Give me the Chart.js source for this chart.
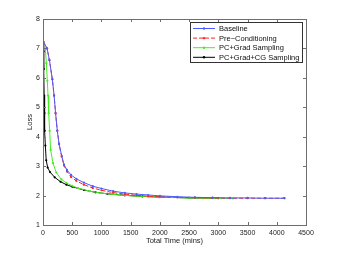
<!DOCTYPE html>
<html>
<head>
<meta charset="utf-8">
<script src="https://cdn.jsdelivr.net/npm/chart.js@4"></script>
<style>
  html, body { margin: 0; padding: 0; background: #fff; }
</style>
</head>
<body>
<canvas id="lossChart" width="338" height="254"></canvas>
<script>
// [time (mins), loss] pairs
const baseline = [
    [0, 7.25], [70, 7.0], [110, 6.6], [160, 5.95], [190, 5.4], [215, 4.8], [245, 4.2],
    [275, 3.75], [320, 3.35], [360, 3.05], [410, 2.87], [480, 2.7], [570, 2.57],
    [700, 2.44], [850, 2.32], [1000, 2.24], [1200, 2.15], [1400, 2.09], [1600, 2.05],
    [1800, 2.02], [2000, 1.99], [2300, 1.96], [2600, 1.94], [2900, 1.93], [3200, 1.92],
    [3500, 1.92], [3800, 1.91], [4130, 1.91]
]
const preConditioning = [
    [0, 7.25], [70, 7.0], [110, 6.6], [160, 5.95], [190, 5.4], [215, 4.8], [245, 4.2],
    [275, 3.75], [320, 3.32], [360, 3.02], [410, 2.82], [480, 2.63], [570, 2.5],
    [700, 2.37], [850, 2.26], [1000, 2.18], [1200, 2.1], [1400, 2.05], [1600, 2.01],
    [1800, 1.98], [2000, 1.96], [2300, 1.94], [2600, 1.93], [2900, 1.92], [3200, 1.91],
    [3500, 1.91], [3800, 1.91], [4130, 1.91]
]
const pcGrad = [
    [0, 7.1], [40, 7.0], [57, 6.5], [74, 5.9], [86, 5.4], [97, 4.8], [114, 4.2],
    [131, 3.55], [171, 3.1], [228, 2.78], [314, 2.55], [400, 2.43], [500, 2.33],
    [600, 2.25], [800, 2.15], [1000, 2.08], [1300, 2.02], [1600, 1.98], [2000, 1.95],
    [2500, 1.92], [2900, 1.91], [3250, 1.9]
]
const pcGradCG = [
    [0, 7.25], [10, 6.9], [15, 6.3], [20, 5.4], [25, 4.8], [30, 4.2], [40, 3.7],
    [55, 3.2], [80, 2.95], [120, 2.8], [200, 2.62], [300, 2.47], [400, 2.37],
    [500, 2.3], [700, 2.19], [900, 2.11], [1100, 2.06], [1400, 2.01], [1700, 1.97],
    [2000, 1.95], [2500, 1.92], [3000, 1.91]
]
const seriesNames = ['Baseline', 'Pre\u2212Conditioning', 'PC+Grad Sampling', 'PC+Grad+CG Sampling']
const seriesColors = ['#4a5cff', '#ff2020', '#44ee22', '#000000']
const xTicks = [0, 500, 1000, 1500, 2000, 2500, 3000, 3500, 4000, 4500]
const yTicks = [1, 2, 3, 4, 5, 6, 7, 8]

const FONT = 'Liberation Sans, Arial, Helvetica, sans-serif'

function toPoints(arr) {
    return arr.map(p => ({ x: p[0], y: p[1] }))
}

// matlab style box with inward ticks on all four sides
const boxTicks = {
    id: 'boxTicks',
    afterDraw(chart) {
        const { ctx, chartArea: a, scales } = chart
        ctx.save()
        ctx.strokeStyle = '#6e6e6e'
        ctx.lineWidth = 1
        ctx.strokeRect(a.left + 0.5, a.top + 0.5, a.right - a.left, a.bottom - a.top)
        ctx.beginPath()
        xTicks.forEach(v => {
            const px = Math.round(scales.x.getPixelForValue(v)) + 0.5
            ctx.moveTo(px, a.bottom); ctx.lineTo(px, a.bottom - 3)
            ctx.moveTo(px, a.top); ctx.lineTo(px, a.top + 3)
        })
        yTicks.forEach(v => {
            const py = Math.round(scales.y.getPixelForValue(v)) + 0.5
            ctx.moveTo(a.left, py); ctx.lineTo(a.left + 3, py)
            ctx.moveTo(a.right, py); ctx.lineTo(a.right - 3, py)
        })
        ctx.stroke()
        ctx.restore()
    }
}

// legend box in the top right corner
const boxLegend = {
    id: 'boxLegend',
    afterDraw(chart) {
        const ctx = chart.ctx
        const x0 = 190, y0 = 22, w = 112, h = 40
        ctx.save()
        ctx.fillStyle = '#fff'
        ctx.fillRect(x0, y0, w, h)
        ctx.strokeStyle = '#333'
        ctx.lineWidth = 1
        ctx.strokeRect(x0 + 0.5, y0 + 0.5, w, h)
        ctx.font = '7.5px ' + FONT
        ctx.textBaseline = 'middle'
        chart.data.datasets.forEach((ds, i) => {
            const y = y0 + 6.5 + i * 9.6
            ctx.strokeStyle = ds.borderColor
            ctx.setLineDash(ds.borderDash || [])
            ctx.beginPath()
            ctx.moveTo(x0 + 3, y); ctx.lineTo(x0 + 25, y)
            ctx.stroke()
            ctx.setLineDash([])
            ctx.fillStyle = ds.borderColor
            ctx.beginPath()
            ctx.arc(x0 + 14, y, 1.2, 0, Math.PI * 2)
            ctx.fill()
            ctx.fillStyle = '#111'
            ctx.fillText(ds.label, x0 + 29, y + 0.5)
        })
        ctx.restore()
    }
}

const lossChart = new Chart(document.getElementById('lossChart'), {
    type: 'line',
    data: {
        datasets: [baseline, preConditioning, pcGrad, pcGradCG].map((d, i) => ({
            label: seriesNames[i],
            data: toPoints(d),
            borderColor: seriesColors[i],
            backgroundColor: seriesColors[i],
            borderWidth: 1,
            borderDash: i === 1 ? [4, 2] : [],
            pointRadius: 1.1,
            pointHoverRadius: 0,
            pointBorderWidth: 0,
            tension: 0,
            fill: false
        }))
    },
    options: {
        responsive: false,
        animation: false,
        devicePixelRatio: 1,
        layout: { padding: { left: 0, right: 32, top: 19, bottom: 0 } },
        plugins: {
            legend: { display: false },
            tooltip: { enabled: false }
        },
        scales: {
            x: {
                type: 'linear',
                min: 0,
                max: 4500,
                afterBuildTicks: s => { s.ticks = xTicks.map(v => ({ value: v })) },
                afterFit: s => { s.height = 29 },
                grid: { display: false, drawTicks: false },
                border: { display: false },
                ticks: {
                    color: '#222', font: { family: FONT, size: 7 }, padding: 4, maxRotation: 0,
                    callback: v => String(v)
                },
                title: {
                    display: true, text: 'Total Time (mins)', color: '#222',
                    font: { family: FONT, size: 7.5 }, padding: { top: 0, bottom: 9 }
                }
            },
            y: {
                type: 'linear',
                min: 1,
                max: 8,
                afterBuildTicks: s => { s.ticks = yTicks.map(v => ({ value: v })) },
                afterFit: s => { s.width = 43 },
                grid: { display: false, drawTicks: false },
                border: { display: false },
                ticks: { color: '#222', font: { family: FONT, size: 7 }, padding: 3, callback: v => String(v) },
                title: {
                    display: true, text: 'Loss', color: '#222',
                    font: { family: FONT, size: 7.5 }, padding: { top: 25, bottom: 0 }
                }
            }
        }
    },
    plugins: [boxTicks, boxLegend]
})
</script>
</body>
</html>
